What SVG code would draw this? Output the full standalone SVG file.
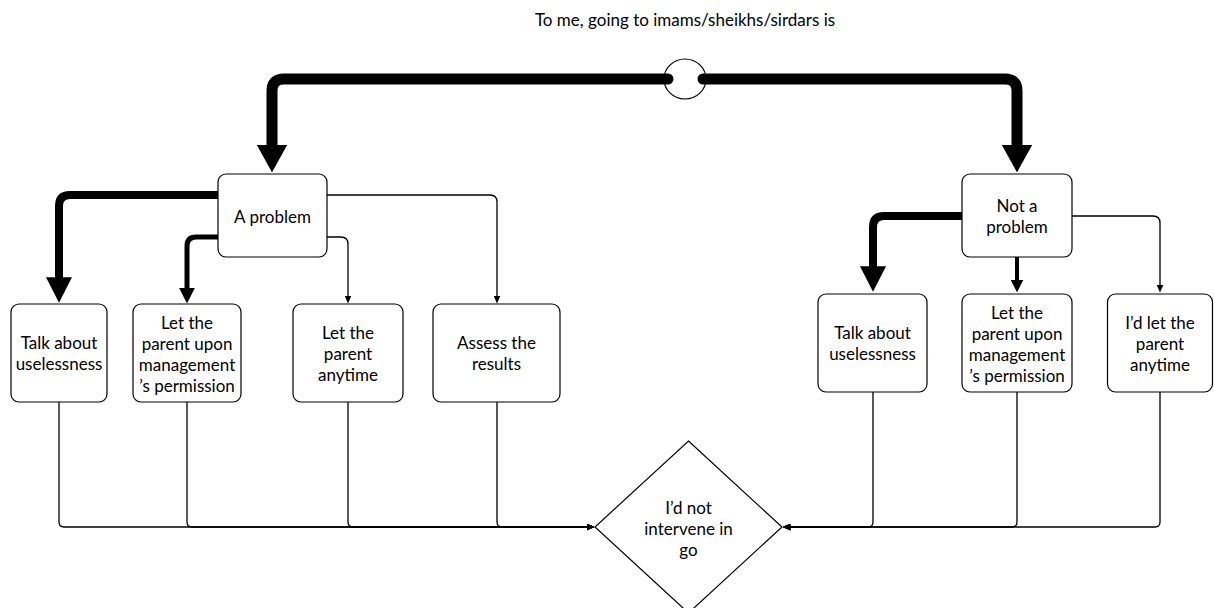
<svg xmlns="http://www.w3.org/2000/svg" width="1214" height="608" viewBox="0 0 1214 608">
<style>
  .box{fill:#fff;stroke:#000;stroke-width:1.2}
  .t{font-family:Lato,"Open Sans","Liberation Sans",sans-serif;font-size:17px;fill:#000;text-anchor:middle}
  .thin{fill:none;stroke:#000;stroke-width:1.3;marker-end:url(#at)}
  .heavy{fill:none;stroke:#000;stroke-linecap:round;stroke-linejoin:round}
</style>
<defs>
  <marker id="hv" viewBox="0 0 2.5 2.75" refX="0.1" refY="1.375" markerWidth="2.5" markerHeight="2.75" orient="auto" markerUnits="strokeWidth"><path d="M0,0 L2.5,1.375 L0,2.75 z" fill="#000"/></marker>
  <marker id="hm" viewBox="0 0 3.2 3.25" refX="0.1" refY="1.625" markerWidth="3.2" markerHeight="3.25" orient="auto" markerUnits="strokeWidth"><path d="M0,0 L3.2,1.625 L0,3.25 z" fill="#000"/></marker>
  <marker id="at" viewBox="0 0 8 7" refX="0.5" refY="3.5" markerWidth="8" markerHeight="7" orient="auto" markerUnits="userSpaceOnUse"><path d="M0,0 L8,3.5 L0,7 z" fill="#000"/></marker>
</defs>
<rect width="1214" height="608" fill="#fff"/>
<text class="t" x="685" y="26">To me, going to imams/sheikhs/sirdars is</text>
<g id="connectors">
  <path class="heavy" stroke-width="11" marker-end="url(#hv)" d="M668,79 H284 Q272,79 272,91 V146"/>
  <path class="heavy" stroke-width="11" marker-end="url(#hv)" d="M703,79 H1005 Q1017,79 1017,91 V146"/>
  <path class="heavy" stroke-width="8" marker-end="url(#hm)" d="M218,195 H70 Q59,195 59,206 V278"/>
  <path class="heavy" stroke-width="5" marker-end="url(#hm)" d="M218,237 H196 Q187,237 187,246 V288"/>
  <path class="thin" d="M327,237 H341 Q348,237 348,244 V296"/>
  <path class="thin" d="M327,195 H490 Q497,195 497,202 V296"/>
  <path class="heavy" stroke-width="8" marker-end="url(#hm)" d="M962,216 H884 Q873,216 873,227 V267"/>
  <path class="heavy" stroke-width="4" stroke-linecap="butt" marker-end="url(#hm)" d="M1017,257 V280"/>
  <path class="thin" d="M1072,216 H1153 Q1160,216 1160,223 V285"/>
  <path class="thin" d="M59,402 V522 Q59,527 64,527 H587"/>
  <path class="thin" d="M187,402 V522 Q187,527 192,527 H587"/>
  <path class="thin" d="M348,402 V522 Q348,527 353,527 H587"/>
  <path class="thin" d="M497,402 V522 Q497,527 502,527 H587"/>
  <path class="thin" d="M873,392 V522 Q873,527 868,527 H790"/>
  <path class="thin" d="M1017,392 V522 Q1017,527 1012,527 H790"/>
  <path class="thin" d="M1160,392 V522 Q1160,527 1155,527 H790"/>
</g>
<g id="start">
  <ellipse cx="685" cy="79" rx="21" ry="20" fill="none" stroke="#000" stroke-width="1.2"/>
</g>
<g id="a-problem">
  <rect class="box" x="218" y="174" width="109" height="83" rx="8"/>
  <text class="t" x="272.5" y="223">A problem</text>
</g>
<g id="not-a-problem">
  <rect class="box" x="962" y="174" width="110" height="83" rx="8"/>
  <text class="t" x="1017" y="212">Not a</text>
  <text class="t" x="1017" y="233">problem</text>
</g>
<g id="l-talk">
  <rect class="box" x="11" y="304" width="96" height="98" rx="8"/>
  <text class="t" x="59" y="349">Talk about</text>
  <text class="t" x="59" y="370">uselessness</text>
</g>
<g id="l-permission">
  <rect class="box" x="133" y="304" width="108" height="98" rx="8"/>
  <text class="t" x="187" y="329">Let the</text>
  <text class="t" x="187" y="350">parent upon</text>
  <text class="t" x="187" y="371">management</text>
  <text class="t" x="187" y="392">’s permission</text>
</g>
<g id="l-anytime">
  <rect class="box" x="293" y="304" width="110" height="98" rx="8"/>
  <text class="t" x="348" y="339">Let the</text>
  <text class="t" x="348" y="360">parent</text>
  <text class="t" x="348" y="381">anytime</text>
</g>
<g id="l-assess">
  <rect class="box" x="433" y="304" width="127" height="98" rx="8"/>
  <text class="t" x="496.5" y="349">Assess the</text>
  <text class="t" x="496.5" y="370">results</text>
</g>
<g id="r-talk">
  <rect class="box" x="818" y="294" width="109" height="98" rx="8"/>
  <text class="t" x="872.5" y="339">Talk about</text>
  <text class="t" x="872.5" y="360">uselessness</text>
</g>
<g id="r-permission">
  <rect class="box" x="962" y="294" width="110" height="98" rx="8"/>
  <text class="t" x="1017" y="319">Let the</text>
  <text class="t" x="1017" y="340">parent upon</text>
  <text class="t" x="1017" y="361">management</text>
  <text class="t" x="1017" y="382">’s permission</text>
</g>
<g id="r-anytime">
  <rect class="box" x="1107.5" y="294" width="105" height="98" rx="8"/>
  <text class="t" x="1160" y="329">I’d let the</text>
  <text class="t" x="1160" y="350">parent</text>
  <text class="t" x="1160" y="371">anytime</text>
</g>
<g id="not-intervene">
  <polygon points="688.5,441 782,527 688.5,613 595,527" fill="#fff" stroke="#000" stroke-width="1.2"/>
  <text class="t" x="688.5" y="514">I’d not</text>
  <text class="t" x="688.5" y="535">intervene in</text>
  <text class="t" x="688.5" y="556">go</text>
</g>
</svg>
